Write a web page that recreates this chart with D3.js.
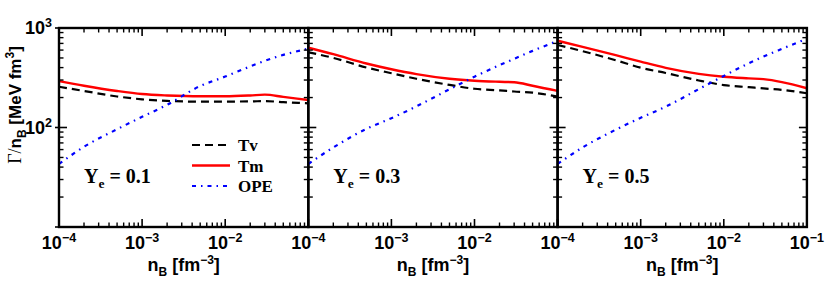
<!DOCTYPE html>
<html>
<head>
<meta charset="utf-8">
<script src="https://cdn.jsdelivr.net/npm/d3@7"></script>
<style>
  body { margin: 0; background: #fff; }
  svg { display: block; }
  .tick-lab { font-family: "Liberation Sans", Arial, sans-serif; font-weight: bold; }
  .serif { font-family: "Liberation Serif", "Times New Roman", serif; font-weight: bold; }
</style>
</head>
<body>
<main></main>
<script>
// densities (fm^-3) where the curves were read
const nB = [1e-4, 2e-4, 5e-4, 1e-3, 2e-3, 5e-3, 1e-2, 2e-2, 3e-2, 5e-2, 1e-1];

const yeLabels = ["0.1", "0.3", "0.5"];

// Gamma/nB [MeV fm^3]
const tv01  = [257, 233, 205, 192, 185, 182, 182, 183, 184, 180, 175];
const tm01  = [293, 263, 233, 217, 210, 206, 206, 210, 214, 203, 189];
const ope01 = [43, 64, 96, 128, 169, 261, 325, 411, 468, 537, 620];

const tv03  = [570, 501, 401, 351, 309, 268, 245, 236, 230, 224, 204];
const tm03  = [634, 546, 440, 385, 344, 309, 295, 288, 285, 263, 233];
const ope03 = [43, 63, 97, 124, 163, 242, 324, 423, 490, 589, 740];

const tv05  = [675, 585, 474, 399, 353, 297, 267, 254, 247, 239, 221];
const tm05  = [745, 646, 533, 459, 398, 346, 324, 312, 306, 286, 248];
const ope05 = [43, 63, 95, 125, 162, 243, 330, 442, 516, 617, 780];

const xTicks = [1e-4, 1e-3, 1e-2, 1e-1];
const xTickExp = ["-4", "-3", "-2", "-1"];
const yTicks = [1e2, 1e3];
const yTickExp = ["2", "3"];

const legendNames = ["Tv", "Tm", "OPE"];

const panels = [
  {ye: yeLabels[0], tv: tv01, tm: tm01, ope: ope01},
  {ye: yeLabels[1], tv: tv03, tm: tm03, ope: ope03},
  {ye: yeLabels[2], tv: tv05, tm: tm05, ope: ope05}
];

const W = 830, H = 284;
const left0 = 59, panelW = 249.3, plotTop = 28, plotBottom = 227;

const styles = {
  tv:  {color: "#000", dash: "8,5", width: 2.2},
  tm:  {color: "#ff0000", dash: null, width: 2.4},
  ope: {color: "#0000ff", dash: "4,5,1.5,5", width: 2.2}
};

const svg = d3.select("main")
  .append("svg")
  .attr("width", W)
  .attr("height", H);

const y = d3.scaleLog().domain([10, 1000]).range([plotBottom, plotTop]);

// minor tick values for a log axis
function minors(lo, hi) {
  const out = [];
  for (let e = Math.round(Math.log10(lo)); e < Math.round(Math.log10(hi)); e++) {
    for (let k = 2; k <= 9; k++) out.push(k * Math.pow(10, e));
  }
  return out;
}

panels.forEach((p, i) => {
  const x0 = left0 + i * panelW;
  const x = d3.scaleLog().domain([1e-4, 1e-1]).range([x0, x0 + panelW]);
  const g = svg.append("g");

  const line = d3.line()
    .x((d, j) => x(nB[j]))
    .y(d => y(d))
    .curve(d3.curveMonotoneX);

  ["tv", "tm", "ope"].forEach(key => {
    g.append("path")
      .datum(p[key])
      .attr("d", line)
      .attr("fill", "none")
      .attr("stroke", styles[key].color)
      .attr("stroke-width", styles[key].width)
      .attr("stroke-dasharray", styles[key].dash);
  });

  // x ticks top and bottom
  const xMaj = xTicks, xMin = minors(1e-4, 1e-1);
  [[plotBottom, -1], [plotTop, 1]].forEach(([yy, dir]) => {
    g.selectAll(null).data(xMaj).enter().append("line")
      .attr("x1", d => x(d)).attr("x2", d => x(d))
      .attr("y1", yy).attr("y2", yy + dir * 8)
      .attr("stroke", "#000").attr("stroke-width", 1.6);
    g.selectAll(null).data(xMin).enter().append("line")
      .attr("x1", d => x(d)).attr("x2", d => x(d))
      .attr("y1", yy).attr("y2", yy + dir * 4.5)
      .attr("stroke", "#000").attr("stroke-width", 1.4);
  });

  // y ticks left and right
  const yMaj = [10, 100, 1000], yMin = minors(10, 1000);
  [[x0, 1], [x0 + panelW, -1]].forEach(([xx, dir]) => {
    g.selectAll(null).data(yMaj).enter().append("line")
      .attr("x1", i == 0 && dir == 1 ? xx - 4 : xx).attr("x2", xx + dir * 8)
      .attr("y1", d => y(d)).attr("y2", d => y(d))
      .attr("stroke", "#000").attr("stroke-width", 1.6);
    g.selectAll(null).data(yMin).enter().append("line")
      .attr("x1", xx).attr("x2", xx + dir * 4.5)
      .attr("y1", d => y(d)).attr("y2", d => y(d))
      .attr("stroke", "#000").attr("stroke-width", 1.4);
  });

  g.append("rect")
    .attr("x", x0).attr("y", plotTop)
    .attr("width", panelW).attr("height", plotBottom - plotTop)
    .attr("fill", "none")
    .attr("stroke", "#000")
    .attr("stroke-width", 2.4);

  // x tick labels (10^-1 only on the last panel)
  xTicks.forEach((t, j) => {
    if (j == 3 && i < 2) return;
    const tx = g.append("text")
      .attr("class", "tick-lab")
      .attr("x", x(t))
      .attr("y", 249)
      .attr("text-anchor", "middle")
      .attr("font-size", 18);
    tx.append("tspan").text("10");
    tx.append("tspan").attr("dy", -7).attr("font-size", 12.5).text("\u2212" + xTickExp[j].slice(1));
  });

  // x axis title
  const xt = g.append("text")
    .attr("class", "tick-lab")
    .attr("x", x0 + panelW / 2)
    .attr("y", 271)
    .attr("text-anchor", "middle")
    .attr("font-size", 18);
  xt.append("tspan").text("n");
  xt.append("tspan").attr("dy", 5).attr("font-size", 12).text("B");
  xt.append("tspan").attr("dy", -5).text(" [fm");
  xt.append("tspan").attr("dy", -7).attr("font-size", 12).text("\u22123");
  xt.append("tspan").attr("dy", 7).text("]");

  // Ye label
  const yl = g.append("text")
    .attr("class", "serif")
    .attr("x", x0 + 25)
    .attr("y", 183)
    .attr("font-size", 20);
  yl.append("tspan").text("Y");
  yl.append("tspan").attr("dy", 5).attr("font-size", 13.5).text("e");
  yl.append("tspan").attr("dy", -5).text(" = " + p.ye);

  if (i == 0) {
    // legend
    const keys = ["tv", "tm", "ope"];
    keys.forEach((k, j) => {
      const ly = 145 + j * 20.5;
      g.append("line")
        .attr("x1", 192).attr("x2", 230)
        .attr("y1", ly).attr("y2", ly)
        .attr("stroke", styles[k].color)
        .attr("stroke-width", styles[k].width)
        .attr("stroke-dasharray", styles[k].dash);
      g.append("text")
        .attr("class", "serif")
        .attr("x", 238).attr("y", ly + 6)
        .attr("font-size", 17)
        .text(legendNames[j]);
    });

    // y tick labels
    yTicks.forEach((t, j) => {
      const ty = g.append("text")
        .attr("class", "tick-lab")
        .attr("x", 52)
        .attr("y", y(t) + 6)
        .attr("text-anchor", "end")
        .attr("font-size", 18);
      ty.append("tspan").text("10");
      ty.append("tspan").attr("dy", -7).attr("font-size", 12.5).text(yTickExp[j]);
    });
  }
});

// y axis title
const yt = svg.append("text")
  .attr("transform", "translate(21,105) rotate(-90)")
  .attr("text-anchor", "middle")
  .attr("font-size", 17);
yt.append("tspan").attr("font-family", "Liberation Serif, serif").attr("font-size", 18).text("\u0393/");
yt.append("tspan").attr("class", "tick-lab").text("n");
yt.append("tspan").attr("class", "tick-lab").attr("dy", 5).attr("font-size", 12).text("B");
yt.append("tspan").attr("class", "tick-lab").attr("dy", -5).text(" [MeV fm");
yt.append("tspan").attr("class", "tick-lab").attr("dy", -7).attr("font-size", 12).text("3");
yt.append("tspan").attr("class", "tick-lab").attr("dy", 7).text("]");
</script>
</body>
</html>
